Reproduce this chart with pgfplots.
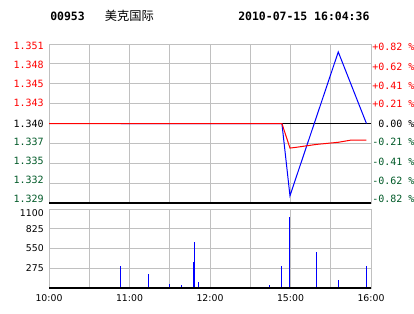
\documentclass[border=0pt]{standalone}
\usepackage{pgfplots}
\pgfplotsset{compat=1.18}
\usepackage{fontspec}
\setmainfont{DejaVu Sans}
\newfontfamily\monofont{DejaVu Sans Mono}
\newfontfamily\cjk{Noto Sans CJK SC}
\definecolor{cgreen}{RGB}{0,90,40}
\definecolor{cgrid}{RGB}{192,192,192}
\definecolor{cred}{RGB}{255,0,0}
\definecolor{cblue}{RGB}{0,0,255}
\begin{document}
\begin{tikzpicture}
\fill[white] (0,0) rectangle (310.5pt,-235.5pt);
\useasboundingbox (0,0) rectangle (310.5pt,-235.5pt);
\node[anchor=base west, inner sep=0pt, font=\monofont\bfseries\fontsize{8.6pt}{10pt}\selectfont] at (37.5pt,-15.4pt) {00953};
\node[anchor=base west, inner sep=0pt, font=\cjk\fontsize{9.2pt}{10pt}\selectfont] at (78.5pt,-15.4pt) {美克国际};
\node[anchor=base west, inner sep=0pt, font=\monofont\bfseries\fontsize{8.6pt}{10pt}\selectfont] at (178.5pt,-15.4pt) {2010-07-15 16:04:36};

% main price panel
\begin{axis}[
 at={(36.75pt,-33pt)}, anchor=north west, scale only axis,
 width=241.5pt, height=119.25pt,
 xmin=0, xmax=240, ymin=1.329, ymax=1.351,
 xtick={30,60,90,120,150,180,210}, xticklabels={}, xmajorgrids,
 scaled y ticks=false,
 ytick={1.32955,1.33219,1.3348,1.33744,1.340,1.34284,1.34546,1.34809,1.35072},
 yticklabels={\textcolor{cgreen}{1.329},\textcolor{cgreen}{1.332},\textcolor{cgreen}{1.335},\textcolor{cgreen}{1.337},1.340,\textcolor{cred}{1.343},\textcolor{cred}{1.345},\textcolor{cred}{1.348},\textcolor{cred}{1.351}},
 extra y ticks={1.33175,1.3345,1.33725,1.34275,1.3455,1.34825},
 extra y tick labels={},
 extra y tick style={grid=major},
 major tick length=0pt,
 grid style={cgrid, line width=0.75pt},
 axis line style={cgrid, line width=0.75pt},
 yticklabel style={anchor=east, inner sep=0pt, xshift=-3.75pt, font=\monofont\fontsize{7.5pt}{9pt}\selectfont},
]
\addplot[black, line width=0.75pt, mark=none] coordinates {(0,1.340) (240,1.340)};
\addplot[cblue, line width=0.75pt, mark=none] coordinates {(53.6,1.340) (173.6,1.340) (179.6,1.3300) (215.6,1.3499) (236.6,1.340)};
\addplot[cred, line width=0.75pt, mark=none] coordinates {(0,1.340) (173.6,1.340) (179.6,1.3366) (184,1.3367) (199,1.3371) (215.6,1.3374) (225,1.3377) (236.6,1.3377)};
\draw[black, line width=1.2pt] (rel axis cs:0,0) -- (rel axis cs:1,0);
\end{axis}

% right percentage labels
\begin{axis}[
 at={(36.75pt,-33pt)}, anchor=north west, scale only axis,
 width=241.5pt, height=119.25pt,
 xmin=0, xmax=240, ymin=-0.82, ymax=0.82,
 axis x line=none, axis y line*=right, axis line style={draw=none},
 major tick length=0pt, scaled y ticks=false,
 ytick={-0.779,-0.593,-0.397,-0.191,0,0.201,0.387,0.586,0.789},
 yticklabels={\textcolor{cgreen}{-0.82 \%},\textcolor{cgreen}{-0.62 \%},\textcolor{cgreen}{-0.41 \%},\textcolor{cgreen}{-0.21 \%},\phantom{+}0.00 \%,\textcolor{cred}{+0.21 \%},\textcolor{cred}{+0.41 \%},\textcolor{cred}{+0.62 \%},\textcolor{cred}{+0.82 \%}},
 yticklabel style={anchor=west, inner sep=0pt, xshift=0.75pt, font=\monofont\fontsize{7.5pt}{9pt}\selectfont},
]
\addplot[draw=none, mark=none] coordinates {(0,0)};
\end{axis}

% volume panel
\begin{axis}[
 at={(36.75pt,-156.75pt)}, anchor=north west, scale only axis,
 width=241.5pt, height=59.25pt,
 xmin=0, xmax=240, ymin=0, ymax=1100,
 xtick={0,30,60,90,120,150,180,210,240},
 xticklabels={10:00,,11:00,,12:00,,15:00,,16:00},
 xmajorgrids, ymajorgrids,
 scaled y ticks=false,
 ytick={275,550,825}, yticklabels={275,550,825},
 extra y ticks={1044}, extra y tick labels={1100}, extra y tick style={grid=none},
 major tick length=0pt,
 grid style={cgrid, line width=0.75pt},
 axis line style={cgrid, line width=0.75pt},
 yticklabel style={anchor=east, inner sep=0pt, xshift=-3.75pt, font=\fontsize{7pt}{8pt}\selectfont},
 xticklabel style={anchor=north, inner sep=0pt, yshift=-5pt, font=\fontsize{7pt}{8pt}\selectfont},
]
\addplot[ycomb, cblue, line width=0.75pt, mark=none] coordinates {
(53.625,306) (73.875,195) (89.625,56) (98.625,42) (107.625,362) (108.375,640) (111.375,84)
(164.625,42) (173.625,306) (179.625,993) (199.125,501) (215.625,111) (236.625,306)};
\draw[black, line width=1.2pt] (rel axis cs:0,0) -- (rel axis cs:1,0);
\end{axis}
\end{tikzpicture}
\end{document}
